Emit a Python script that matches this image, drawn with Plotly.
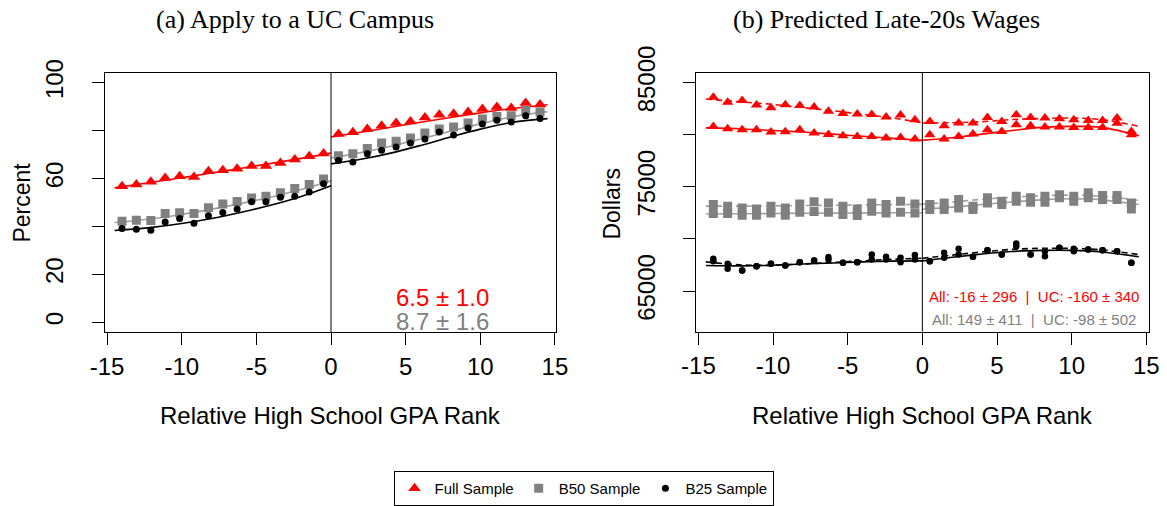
import plotly.graph_objects as go

# bin midpoints of relative GPA rank (same for both panels)
BINS = [-14.0, -13.04, -12.07, -11.11, -10.14, -9.18, -8.21, -7.25, -6.29, -5.32,
        -4.36, -3.39, -2.43, -1.46, -0.5, 0.5, 1.46, 2.43, 3.39, 4.36,
        5.32, 6.29, 7.25, 8.21, 9.18, 10.14, 11.11, 12.07, 13.04, 14.0]

# x positions of the fitted curves, each side of the cutoff
FIT_X_LEFT = [-14.5, -12, -10, -8, -6, -4, -2, 0]
FIT_X_RIGHT = [0, 2, 4, 6, 8, 10, 12, 14.5]

X_TICKS = [-15, -10, -5, 0, 5, 10, 15]
X_TICK_TEXT = ["-15", "-10", "-5", "0", "5", "10", "15"]
PCT_TICKS = [0, 20, 40, 60, 80, 100]
PCT_TICK_TEXT = ["0", "20", "", "60", "", "100"]
WAGE_TICKS = [65000, 70000, 75000, 80000, 85000]
WAGE_TICK_TEXT = ["65000", "", "75000", "", "85000"]

# (a) apply to a UC campus, percent
APPLY_FULL = [56.8, 57.5, 58.6, 60.2, 60.9, 60.6, 63.0, 63.4, 64.1, 65.2,
              65.2, 66.5, 67.9, 69.3, 70.4, 78.6, 79.3, 80.7, 82.0, 83.2,
              83.8, 85.5, 86.6, 87.0, 87.8, 89.0, 89.8, 89.4, 91.5, 90.9]
APPLY_B50 = [42.2, 42.6, 42.5, 45.4, 45.7, 45.4, 47.8, 49.4, 50.4, 51.9,
             52.6, 54.0, 55.8, 57.5, 59.8, 69.5, 70.3, 72.5, 74.8, 75.5,
             76.9, 79.0, 80.7, 81.5, 83.2, 84.8, 85.9, 86.2, 88.4, 87.8]
APPLY_B25 = [39.1, 38.8, 38.4, 41.8, 43.3, 41.3, 44.5, 45.8, 47.3, 50.3,
             50.3, 52.2, 52.6, 54.4, 57.8, 67.5, 66.9, 70.3, 71.8, 73.2,
             74.8, 76.5, 79.4, 78.2, 81.1, 82.7, 84.3, 83.6, 86.2, 85.0]

APPLY_FULL_FIT_L = [56.1, 58.4, 60.3, 62.3, 64.3, 66.3, 68.4, 70.6]
APPLY_FULL_FIT_R = [77.3, 79.3, 81.4, 83.5, 85.5, 87.4, 89.1, 90.8]
APPLY_B50_FIT_L = [41.6, 43.2, 45.0, 47.2, 49.6, 52.3, 55.4, 59.0]
APPLY_B50_FIT_R = [68.6, 70.8, 73.5, 76.5, 79.7, 82.8, 85.6, 87.9]
APPLY_B25_FIT_L = [38.3, 39.6, 41.2, 43.3, 45.9, 48.9, 52.5, 57.0]
APPLY_B25_FIT_R = [66.1, 68.0, 70.6, 73.8, 77.3, 80.6, 83.3, 85.0]

# (b) predicted late-20s wages, dollars ("UC" = dashed fit, "All" = solid fit)
WAGE_FULL_UC = [83600, 83120, 83280, 82840, 82580, 82870, 82800, 82650, 82260, 82030,
                81980, 81940, 81690, 81880, 81430, 81270, 80860, 81120, 81120, 81650,
                81270, 81910, 81650, 81590, 81530, 81430, 81360, 81360, 81590, 80310]
WAGE_FULL_ALL = [80790, 80570, 80470, 80470, 80250, 80280, 80470, 80160, 80020, 79900,
                 79830, 79830, 79680, 79740, 79580, 80000, 79580, 79830, 80060, 80470,
                 80310, 80950, 80860, 80730, 80730, 80690, 80690, 80690, 81100, 80000]
WAGE_B50_UC = [73300, 73140, 72980, 72880, 73140, 72980, 73360, 73560, 73460, 73140,
               72880, 73460, 73300, 73610, 73360, 73300, 73460, 73780, 73140, 73940,
               73610, 74090, 73940, 74090, 74250, 74090, 74420, 74160, 74160, 73460]
WAGE_B50_ALL = [72430, 72430, 72270, 72270, 72500, 72270, 72560, 72630, 72560, 72340,
                72240, 72660, 72500, 72560, 72500, 72820, 72820, 72980, 72820, 73460,
                73300, 73610, 73520, 73520, 73940, 73610, 73940, 73780, 73780, 72880]
WAGE_B25_UC = [68100, 67620, 66980, 67390, 67620, 67460, 67770, 67940, 68260, 67720,
               67770, 68510, 68290, 68190, 68450, 67870, 68670, 69060, 68290, 68920,
               68510, 69560, 68510, 68830, 69150, 69060, 68990, 68920, 68830, 67720]
WAGE_B25_ALL = [67870, 67140, 66980, 67390, 67620, 67460, 67770, 67940, 68030, 67720,
                67770, 68030, 68030, 67770, 68030, 67870, 68190, 68510, 68290, 68920,
                68510, 69300, 68510, 68350, 69150, 68830, 68990, 68920, 68830, 67720]

WAGE_FULL_UC_FIT_L = [83420, 83130, 82900, 82600, 82300, 81950, 81600, 81150]
WAGE_FULL_UC_FIT_R = [81120, 81150, 81250, 81450, 81550, 81600, 81450, 80800]
WAGE_FULL_ALL_FIT_L = [80650, 80550, 80400, 80250, 80050, 79850, 79650, 79450]
WAGE_FULL_ALL_FIT_R = [79450, 79700, 80050, 80400, 80700, 80800, 80700, 79900]
WAGE_B50_UC_FIT_L = [73150, 73150, 73170, 73200, 73230, 73260, 73290, 73320]
WAGE_B50_UC_FIT_R = [73350, 73550, 73800, 74000, 74150, 74200, 74100, 73700]
WAGE_B50_ALL_FIT_L = [72400, 72420, 72440, 72460, 72480, 72500, 72510, 72520]
WAGE_B50_ALL_FIT_R = [72850, 73050, 73300, 73550, 73750, 73850, 73750, 73300]
WAGE_B25_UC_FIT_L = [67800, 67500, 67480, 67600, 67750, 67900, 68050, 68150]
WAGE_B25_UC_FIT_R = [68150, 68450, 68750, 69000, 69100, 69100, 68950, 68500]
WAGE_B25_ALL_FIT_L = [67450, 67420, 67480, 67600, 67700, 67800, 67870, 67900]
WAGE_B25_ALL_FIT_R = [67900, 68250, 68550, 68800, 68900, 68900, 68750, 68300]

SAMPLES = ["Full Sample", "B50 Sample", "B25 Sample"]
POINT_COLORS = ["#FF0000", "#808080", "#000000"]
LINE_COLORS = ["#FF0000", "#A0A0A0", "#000000"]
SYMBOLS = ["triangle-up", "square", "circle"]
SIZES_A = [11, 9, 7]
SIZES_B = [10, 9, 6.5]

SANS = "Liberation Sans, Arial, sans-serif"
SERIF = "Liberation Serif, Times New Roman, serif"
W, H = 1167, 506

fig = go.Figure()


def add_fit(xs, ys, color, xaxis, yaxis, dash="solid"):
    fig.add_trace(go.Scatter(
        x=xs, y=ys, mode="lines", line=dict(color=color, width=1.6, dash=dash, shape="spline"),
        xaxis=xaxis, yaxis=yaxis, showlegend=False, hoverinfo="skip"
    ))


def add_text(text, px, py, size, color="black", family=SANS, angle=0):
    # place text by its centre, in pixels from the top-left corner
    fig.add_annotation(text=text, x=px / W, y=(H - py) / H, xref="paper", yref="paper",
                       xanchor="center", yanchor="middle", showarrow=False, textangle=angle,
                       font=dict(family=family, size=size, color=color))


apply_pts = [APPLY_FULL, APPLY_B50, APPLY_B25]
apply_fits = [(APPLY_FULL_FIT_L, APPLY_FULL_FIT_R),
              (APPLY_B50_FIT_L, APPLY_B50_FIT_R),
              (APPLY_B25_FIT_L, APPLY_B25_FIT_R)]

for i in range(3):
    fl, fr = apply_fits[i]
    add_fit(FIT_X_LEFT, fl, LINE_COLORS[i], "x", "y")
    add_fit(FIT_X_RIGHT, fr, LINE_COLORS[i], "x", "y")
    fig.add_trace(go.Scatter(
        x=BINS, y=apply_pts[i], mode="markers", name=SAMPLES[i],
        marker=dict(symbol=SYMBOLS[i], size=SIZES_A[i], color=POINT_COLORS[i]),
        xaxis="x", yaxis="y", showlegend=True
    ))

wage_pts = [(WAGE_FULL_UC, WAGE_FULL_ALL), (WAGE_B50_UC, WAGE_B50_ALL), (WAGE_B25_UC, WAGE_B25_ALL)]
wage_fits = [
    (WAGE_FULL_UC_FIT_L, WAGE_FULL_UC_FIT_R, WAGE_FULL_ALL_FIT_L, WAGE_FULL_ALL_FIT_R),
    (WAGE_B50_UC_FIT_L, WAGE_B50_UC_FIT_R, WAGE_B50_ALL_FIT_L, WAGE_B50_ALL_FIT_R),
    (WAGE_B25_UC_FIT_L, WAGE_B25_UC_FIT_R, WAGE_B25_ALL_FIT_L, WAGE_B25_ALL_FIT_R),
]

for i in range(3):
    ucl, ucr, all_l, all_r = wage_fits[i]
    add_fit(FIT_X_LEFT, ucl, LINE_COLORS[i], "x2", "y2", dash="6px,4px")
    add_fit(FIT_X_RIGHT, ucr, LINE_COLORS[i], "x2", "y2", dash="6px,4px")
    add_fit(FIT_X_LEFT, all_l, LINE_COLORS[i], "x2", "y2")
    add_fit(FIT_X_RIGHT, all_r, LINE_COLORS[i], "x2", "y2")
    for ys in wage_pts[i]:
        fig.add_trace(go.Scatter(
            x=BINS, y=ys, mode="markers", name=SAMPLES[i],
            marker=dict(symbol=SYMBOLS[i], size=SIZES_B[i], color=POINT_COLORS[i]),
            xaxis="x2", yaxis="y2", showlegend=False
        ))

axis_common = dict(
    showline=True, linecolor="black", linewidth=1, mirror=True,
    ticks="outside", ticklen=12, tickwidth=1, tickcolor="black",
    showgrid=False, zeroline=False, automargin=False,
    tickfont=dict(family=SANS, size=24, color="black"),
)

fig.update_layout(
    template="none",
    width=W, height=H,
    margin=dict(l=0, r=0, t=0, b=0),
    paper_bgcolor="white", plot_bgcolor="white",
    xaxis=dict(domain=[105 / W, 556 / W], range=[-15.14, 15.07], anchor="y",
               tickvals=X_TICKS, ticktext=X_TICK_TEXT, ticklabelstandoff=1, **axis_common),
    yaxis=dict(domain=[(H - 332.7) / H, (H - 73) / H], range=[-4.1, 104.1], anchor="x",
               tickvals=PCT_TICKS, ticktext=PCT_TICK_TEXT,
               tickangle=-90, ticklabelstandoff=19, **axis_common),
    xaxis2=dict(domain=[696.3 / W, 1148.7 / W], range=[-15.14, 15.16], anchor="y2",
                tickvals=X_TICKS, ticktext=X_TICK_TEXT, ticklabelstandoff=1, **axis_common),
    yaxis2=dict(domain=[(H - 332.3) / H, (H - 73) / H], range=[61110, 85930], anchor="x2",
                tickvals=WAGE_TICKS, ticktext=WAGE_TICK_TEXT,
                tickangle=-90, ticklabelstandoff=19, **axis_common),
    legend=dict(
        orientation="h", x=0.5, xanchor="center", y=(H - 472) / H, yanchor="top",
        bordercolor="black", borderwidth=1, bgcolor="white",
        font=dict(family=SANS, size=15, color="black"),
        itemwidth=30,
    ),
    showlegend=True,
)

# cutoff lines
for xr, yr in [("x", "y domain"), ("x2", "y2 domain")]:
    fig.add_shape(type="line", x0=0, x1=0, y0=0, y1=1, xref=xr, yref=yr,
                  line=dict(color="black", width=1))

# titles
add_text("(a) Apply to a UC Campus", 295, 20, 26, family=SERIF)
add_text("(b) Predicted Late-20s Wages", 886, 20, 26, family=SERIF)

# axis titles
add_text("Relative High School GPA Rank", 330.5, 416, 24)
add_text("Relative High School GPA Rank", 922.5, 416, 24)
add_text("Percent", 22, 203, 23, angle=-90)
add_text("Dollars", 612, 204, 23, angle=-90)

# discontinuity estimates
add_text("6.5 ± 1.0", 442, 298, 24, color="#FF0000")
add_text("8.7 ± 1.6", 442, 322, 24, color="#808080")
add_text("All: -16 ± 296  |  UC: -160 ± 340", 1034, 297, 15, color="#FF0000")
add_text("All: 149 ± 411  |  UC: -98 ± 502", 1034, 320, 15, color="#808080")

# drop the page's default body margin so the figure sits at the window corner
fig.write_html("out.html", config={"displayModeBar": False},
               post_script="document.body.style.margin = '0';")
